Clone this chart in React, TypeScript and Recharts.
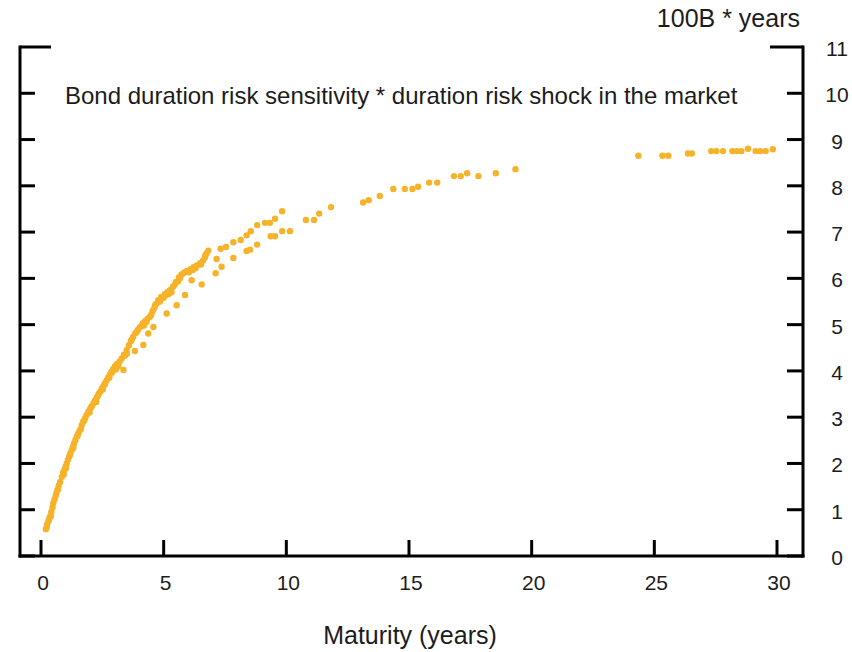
import React from 'react';
import { ScatterChart, Scatter, XAxis, YAxis, ReferenceLine } from 'recharts';

const FONT = '"Liberation Sans", Arial, sans-serif';
const DOT = '#F6B32A';
const INK = '#1c1c1c';

// dense strand, 0-7 years
const coreMaturity = [
  0.2, 0.25, 0.3, 0.37, 0.42, 0.47, 0.5, 0.55, 0.6, 0.67, 0.72, 0.78, 0.85, 0.9, 0.95, 1.0,
  1.05, 1.1, 1.15, 1.2, 1.25, 1.3, 1.35, 1.4, 1.46, 1.52, 1.58, 1.66, 1.72, 1.8, 1.86, 1.93,
  2.0, 2.07, 2.14, 2.2, 2.28, 2.35, 2.41, 2.48, 2.55, 2.62, 2.68, 2.75, 2.82, 2.88, 2.95, 3.02,
  3.1, 3.2, 3.29, 3.38, 3.49, 3.58, 3.66, 3.76, 3.85, 3.95, 4.04, 4.15, 4.25, 4.35, 4.44, 4.55,
  4.65, 4.78, 4.9, 5.05, 5.15, 5.26, 5.38, 5.5, 5.62, 5.72, 5.8, 5.95, 6.1, 6.22, 6.35, 6.48,
  6.6, 6.68, 6.75, 6.82,
];
const coreShock = [
  0.58, 0.68, 0.75, 0.85, 0.95, 1.05, 1.14, 1.22, 1.3, 1.43, 1.52, 1.6, 1.71, 1.8, 1.86, 1.93,
  2.0, 2.08, 2.15, 2.22, 2.29, 2.36, 2.43, 2.5, 2.58, 2.65, 2.72, 2.83, 2.9, 2.98, 3.05, 3.12,
  3.18, 3.24, 3.3, 3.36, 3.43, 3.5, 3.55, 3.62, 3.68, 3.74, 3.8, 3.87, 3.93, 3.99, 4.05, 4.1,
  4.15, 4.2, 4.27, 4.35, 4.45, 4.55, 4.64, 4.74, 4.82, 4.89, 4.95, 5.03, 5.08, 5.13, 5.17, 5.3,
  5.42, 5.53, 5.6, 5.66, 5.7, 5.75, 5.82, 5.92, 6.02, 6.08, 6.11, 6.16, 6.2, 6.24, 6.28, 6.33,
  6.38, 6.45, 6.54, 6.6,
];

// bonds sitting just off the dense strand
const nearMaturity = [
  0.23, 0.33, 0.63, 0.93, 1.18, 1.49, 1.76, 2.05, 2.31, 2.6, 2.9, 3.05, 3.15, 3.42, 3.7, 4.1,
  4.3, 4.5, 4.7, 4.85, 5.0, 5.1, 5.32, 5.45, 5.67, 5.88, 6.03, 6.3, 6.52, 6.7,
  0.4, 0.7, 1.02, 1.32, 1.62, 1.98, 2.25, 2.52, 2.78, 3.5, 3.9, 4.2, 4.62, 5.2, 5.58, 6.18,
];
const nearShock = [
  0.62, 0.8, 1.36, 1.76, 2.19, 2.6, 2.93, 3.22, 3.45, 3.71, 3.97, 4.03, 4.1, 4.33, 4.68, 4.97,
  5.06, 5.22, 5.45, 5.5, 5.58, 5.64, 5.7, 5.86, 6.0, 6.14, 6.13, 6.22, 6.3, 6.5,
  0.86, 1.44, 1.9, 2.34, 2.74, 3.1, 3.33, 3.6, 3.85, 4.37, 4.84, 4.98, 5.36, 5.66, 5.93, 6.18,
];

// lower scatter and the two strands between 7 and 10 years
const midMaturity = [
  3.36, 3.83, 4.17, 4.37, 4.58, 5.12, 5.53, 5.87, 6.14, 6.55, 7.12, 7.16, 7.36, 7.84,
  7.32, 7.54, 7.84, 8.14, 8.38, 8.55, 8.81, 9.13, 9.33, 9.54, 9.83,
  8.38, 8.52, 8.81, 9.36, 9.54, 9.83, 10.15,
];
const midShock = [
  4.02, 4.43, 4.56, 4.81, 4.95, 5.24, 5.42, 5.64, 5.96, 5.87, 6.11, 6.42, 6.25, 6.44,
  6.64, 6.68, 6.78, 6.83, 6.93, 7.02, 7.15, 7.2, 7.2, 7.29, 7.45,
  6.59, 6.62, 6.73, 6.91, 6.91, 7.02, 7.02,
];

// long end
const longMaturity = [
  10.8, 11.13, 11.34, 11.82, 13.13, 13.36, 13.81, 14.36, 14.83, 15.14, 15.37, 15.82, 16.15,
  16.83, 17.11, 17.37, 17.83, 18.54, 19.34, 24.35, 25.33, 25.57, 26.37, 26.53, 27.32, 27.53,
  27.8, 28.18, 28.37, 28.55, 28.82, 29.13, 29.32, 29.54, 29.83,
];
const longShock = [
  7.26, 7.26, 7.4, 7.54, 7.64, 7.69, 7.78, 7.93, 7.93, 7.93, 7.98, 8.07, 8.07,
  8.21, 8.21, 8.27, 8.21, 8.27, 8.36, 8.65, 8.65, 8.65, 8.7, 8.7, 8.75, 8.75,
  8.75, 8.75, 8.75, 8.75, 8.8, 8.75, 8.75, 8.75, 8.79,
];

const xTicks = [0, 5, 10, 15, 20, 25, 30];
const yTicks = [0, 1, 2, 3, 4, 5, 6, 7, 8, 9, 10, 11];

const maturity = [...coreMaturity, ...nearMaturity, ...midMaturity, ...longMaturity];
const shock = [...coreShock, ...nearShock, ...midShock, ...longShock];
const data = maturity.map((m, i) => ({ x: m, y: shock[i] }));

const axisLine = { stroke: '#000', strokeWidth: 3, strokeLinecap: 'square' as const };

const BottomTick = (props: any) => {
  const { x, y, payload } = props;
  return (
    <text x={x + 2} y={y + 34} textAnchor="middle" fontSize={21} fill={INK} fontFamily={FONT}>
      {payload.value}
    </text>
  );
};

const RightTick = (props: any) => {
  const { x, y, payload } = props;
  const len = payload.value === 11 ? 33 : 16;
  return (
    <g>
      <line x1={x - len} x2={x} y1={y} y2={y} stroke="#000" strokeWidth={3} />
      <text x={x + 34} y={y + 9} textAnchor="middle" fontSize={21} fill={INK} fontFamily={FONT}>
        {payload.value}
      </text>
    </g>
  );
};

const LeftTick = (props: any) => {
  const { x, y, payload } = props;
  const len = payload.value === 11 ? 31 : 15;
  return <line x1={x} x2={x + len} y1={y} y2={y} stroke="#000" strokeWidth={3} />;
};

const Dot = (props: any) => <circle cx={props.cx} cy={props.cy} r={3.2} fill={DOT} />;

export default function App() {
  return (
    <div>
      <style>{'body{margin:0;overflow:hidden}'}</style>
      <ScatterChart width={852} height={652} margin={{ top: 47, right: 0, bottom: 36, left: 19 }}>
        <XAxis
          type="number"
          dataKey="x"
          domain={[-0.856, 31.06]}
          ticks={xTicks}
          allowDataOverflow
          height={60}
          tickSize={0}
          tickMargin={0}
          axisLine={axisLine}
          tickLine={false}
          tick={BottomTick}
        />
        <YAxis
          yAxisId="l"
          orientation="left"
          type="number"
          domain={[0, 11]}
          ticks={yTicks}
          allowDataOverflow
          width={1}
          tickSize={0}
          tickMargin={0}
          axisLine={axisLine}
          tickLine={false}
          tick={LeftTick}
        />
        <YAxis
          yAxisId="r"
          orientation="right"
          type="number"
          dataKey="y"
          domain={[0, 11]}
          ticks={yTicks}
          allowDataOverflow
          width={49}
          tickSize={0}
          tickMargin={0}
          axisLine={axisLine}
          tickLine={false}
          tick={RightTick}
        />
        {/* inward x ticks: vertical reference lines starting at the axis, only the first 16px dashed in */}
        {xTicks.map((t) => (
          <ReferenceLine
            key={t}
            x={t}
            yAxisId="r"
            stroke="#000"
            strokeWidth={3}
            strokeDasharray="16 2000"
            zIndex={2000}
          />
        ))}
        <Scatter data={data} yAxisId="r" fill={DOT} shape={Dot} isAnimationActive={false} />
        <text x={65} y={104} fontSize={24} fill={INK} fontFamily={FONT}>
          Bond duration risk sensitivity * duration risk shock in the market
        </text>
        <text x={800} y={27} textAnchor="end" fontSize={25} fill={INK} fontFamily={FONT}>
          100B * years
        </text>
        <text x={410} y={644} textAnchor="middle" fontSize={25} fill={INK} fontFamily={FONT}>
          Maturity (years)
        </text>
      </ScatterChart>
    </div>
  );
}
